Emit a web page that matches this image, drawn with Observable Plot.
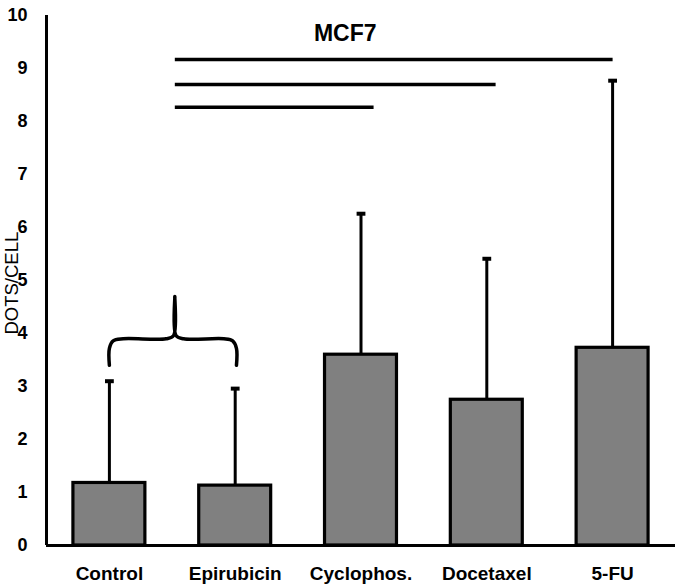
<!DOCTYPE html>
<html><head><meta charset="utf-8">
<script src="https://cdn.jsdelivr.net/npm/d3@7"></script>
<script src="https://cdn.jsdelivr.net/npm/@observablehq/plot@0.6"></script>
<style>body{margin:0;background:#fff;} svg{display:block;font-family:"Liberation Sans",Arial,sans-serif;}</style>
</head><body>
<div id="chart"></div>
<script>
const categories = ["Control", "Epirubicin", "Cyclophos.", "Docetaxel", "5-FU"];
const means = [1.18, 1.13, 3.6, 2.75, 3.73];
const upper = [3.1, 2.96, 6.26, 5.41, 8.77];
const yTicks = [0,1,2,3,4,5,6,7,8,9,10];
// significance lines: from brace group to treatments
const sigFrom = [0.52, 0.52, 0.52];
const sigTo = [2.1, 3.07, 4.0];
const sigY = [8.27, 8.7, 9.17];
// brace (x in category index units, y in DOTS/CELL)
const braceX = [0, 0, 0.03, 0.11, 0.45, 0.51, 0.52, 0.53, 0.59, 0.91, 0.98, 1.01, 1.01];
const braceY = [3.4, 3.72, 3.86, 3.9, 3.9, 3.96, 4.7, 3.96, 3.9, 3.9, 3.86, 3.72, 3.4];

const bars = categories.map((c, i) => ({i, c, m: means[i], u: upper[i]}));
const sigs = sigFrom.map((f, k) => ({f, t: sigTo[k], y: sigY[k]}));
const brace = braceX.map((x, k) => ({x, y: braceY[k]}));
const hw = 0.286, cap = 0.035;

const chart = Plot.plot({
  width: 675, height: 585,
  marginLeft: 46, marginRight: 0, marginTop: 15, marginBottom: 40,
  x: {domain: [-0.5, 4.5], axis: null},
  y: {domain: [0, 10], axis: null},
  style: {fontFamily: "'Liberation Sans', Arial, sans-serif", color: "#000"},
  marks: [
    Plot.axisY(yTicks, {tickSize: 0, tickPadding: 19, fontSize: 18, fontWeight: "bold", tickFormat: d3.format("d"), label: null}),
    Plot.axisX(d3.range(categories.length), {tickSize: 0, tickPadding: 21, fontSize: 19, fontWeight: "bold", tickFormat: i => categories[i], label: null}),
    Plot.ruleX(bars, {x: "i", y1: "m", y2: "u", stroke: "#000", strokeWidth: 3}),
    Plot.link(bars, {x1: d => d.i - cap, x2: d => d.i + cap, y1: "u", y2: "u", stroke: "#000", strokeWidth: 4}),
    Plot.rectY(bars, {x1: d => d.i - hw, x2: d => d.i + hw, y1: 0, y2: "m", fill: "#808080", stroke: "#000", strokeWidth: 3.2}),
    Plot.ruleX([-0.5], {y1: 0, y2: 10, stroke: "#000", strokeWidth: 3}),
    Plot.ruleY([0], {stroke: "#000", strokeWidth: 3}),
    Plot.link(sigs, {x1: "f", x2: "t", y1: "y", y2: "y", stroke: "#000", strokeWidth: 3.5}),
    Plot.line(brace, {x: "x", y: "y", curve: "catmull-rom", stroke: "#000", strokeWidth: 3.5}),
    Plot.text(["MCF7"], {x: 1.875, y: 9.655, fontSize: 23, fontWeight: "bold", fill: "#000"}),
    Plot.text(["DOTS/CELL"], {frameAnchor: "left", textAnchor: "middle", dx: -34.5, y: 4.95, rotate: -90, fontSize: 18.5, fill: "#000"})
  ]
});
document.getElementById("chart").appendChild(chart);
</script>
</body></html>
